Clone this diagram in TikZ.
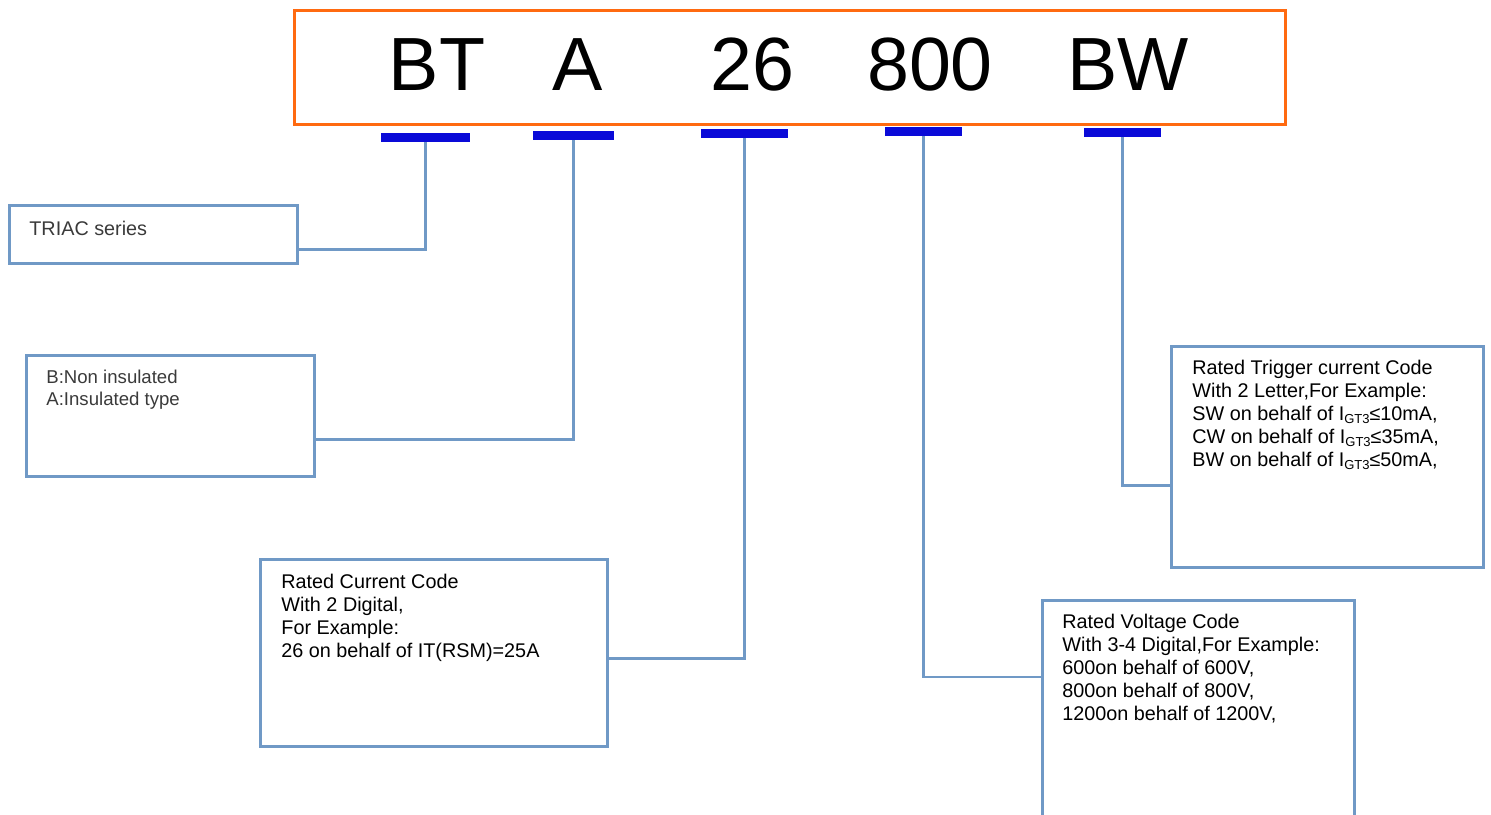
\documentclass[tikz,border=0pt]{standalone}
\usepackage{fontspec}
\setmainfont{Liberation Sans}
\usetikzlibrary{positioning}

\begin{document}
\begin{tikzpicture}[x=0.5pt, y=-0.5pt]

  % --- Farben ---
  \definecolor{frameorange}{HTML}{FF6A10} % Rahmen Typenbezeichnung
  \definecolor{barblue}{HTML}{0A0AD8}     % Markierungsbalken
  \definecolor{boxblue}{HTML}{7099C6}     % Kaesten und Linien
  \definecolor{textgrey}{HTML}{3A3A3A}

  % --- Stile ---
  \tikzset{
    codetext/.style={anchor=base, inner sep=0pt, font=\fontsize{37.7}{40}\selectfont},
    codebar/.style={fill=barblue, minimum height=4.5pt, inner sep=0pt},
    infobox/.style={draw=boxblue, line width=1.5pt, anchor=north west, inner sep=0pt},
    infotext/.style={anchor=north west, inner sep=0pt, align=left,
      font=\fontsize{9.9}{11.5}\selectfont},
    link/.style={draw=boxblue, line width=1.3pt}
  }

  % --- Hilfsmakro: \igt{Grenzwert} ---
  \newcommand{\igt}[1]{I\raisebox{-0.25ex}{\fontsize{6.5}{7}\selectfont GT3}≤#1}

  \clip (0,0) rectangle (1491,814);

  % --- Typenbezeichnung ---
  \node[draw=frameorange, line width=1.5pt, anchor=north west, inner sep=0pt,
    minimum width=495.5pt, minimum height=57pt] (code) at (293,9) {};
  \node[codetext] (cSeries) at (437,90) {BT};
  \node[codetext] (cIns)    at (578,90) {A};
  \node[codetext] (cCur)    at (752,90) {26};
  \node[codetext] (cVolt)   at (930,90) {800};
  \node[codetext] (cTrig)   at (1128,90) {BW};

  % --- Balken unter den Feldern ---
  \node[codebar, minimum width=44.5pt] (b1) at (425.5,137.5) {};
  \node[codebar, minimum width=40.5pt] (b2) at (573.5,135.5) {};
  \node[codebar, minimum width=43.5pt] (b3) at (744.5,133.5) {};
  \node[codebar, minimum width=38.5pt] (b4) at (923.5,131.5) {};
  \node[codebar, minimum width=38.5pt] (b5) at (1122.5,132.5) {};

  % --- Erklaerungskaesten ---
  \node[infobox, minimum width=144pt, minimum height=29pt] (triac) at (8,204) {};
  \node[infotext, text=textgrey] (triacT) at (29,221) {TRIAC series};

  \node[infobox, minimum width=144pt, minimum height=60.5pt] (insul) at (25,354) {};
  \node[infotext, text=textgrey, font=\fontsize{9.3}{11}\selectfont] (insulT) at (46,370)
    {B:Non insulated\\A:Insulated type};

  \node[infobox, minimum width=173.5pt, minimum height=93.5pt] (curr) at (259,558) {};
  \node[infotext] (currT) at (281,574)
    {Rated Current Code\\With 2 Digital,\\For Example:\\26 on behalf of IT(RSM)=25A};

  \node[infobox, minimum width=156pt, minimum height=116pt] (volt) at (1041,599) {};
  \node[infotext] (voltT) at (1062,614)
    {Rated Voltage Code\\With 3-4 Digital,For Example:\\600on behalf of 600V,\\800on behalf of 800V,\\1200on behalf of 1200V,};

  \node[infobox, minimum width=156pt, minimum height=110.5pt] (trig) at (1170,345) {};
  \node[infotext] (trigT) at (1192,360)
    {Rated Trigger current Code\\With 2 Letter,For Example:\\SW on behalf of \igt{10mA,}\\CW on behalf of \igt{35mA,}\\BW on behalf of \igt{50mA,}};

  % --- Verbindungslinien ---
  \draw[link] (b1.south) |- ([yshift=-7.5pt]triac.east);
  \draw[link] (b2.south) |- ([yshift=-11.75pt]insul.east);
  \draw[link] (b3.south) |- ([yshift=-2.75pt]curr.east);
  \draw[link] (b4.south) |- ([yshift=19.75pt]volt.west);
  \draw[link] (b5.south) |- ([yshift=-14.25pt]trig.west);

\end{tikzpicture}
\end{document}
